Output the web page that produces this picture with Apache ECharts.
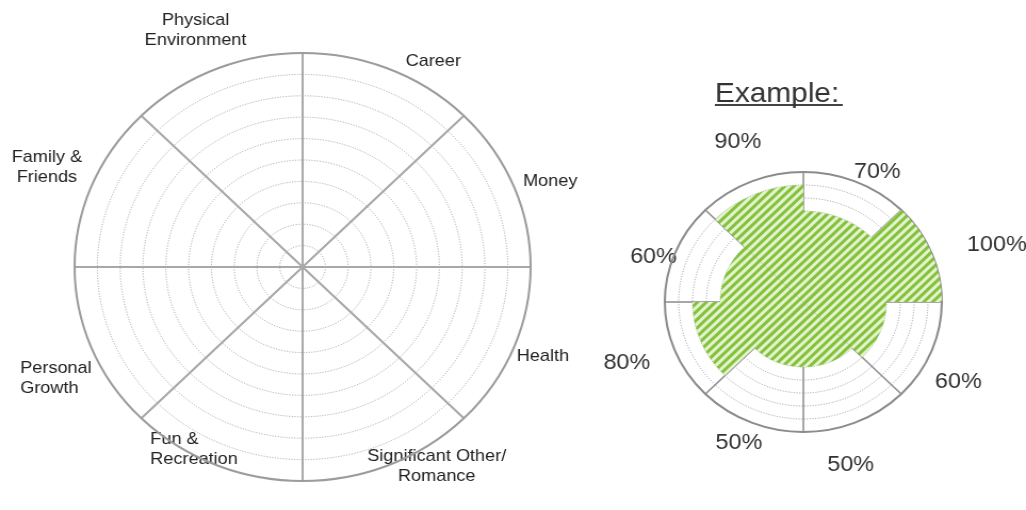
<!DOCTYPE html>
<html>
<head>
<meta charset="utf-8">
<script src="https://cdn.jsdelivr.net/npm/echarts@6/dist/echarts.min.js"></script>
<style>
  html, body { margin: 0; padding: 0; background: #fff; overflow: hidden; }
  /* the source picture is a little wider than tall, so the wheels are stretched */
  #chart { width: 963px; height: 510px; transform: scaleX(1.0654); transform-origin: 0 0; }
</style>
</head>
<body>
<div id="chart"></div>
<script>
// areas of the wheel, clockwise from 12 o'clock
const areas = [
    'Career',
    'Money',
    'Health',
    'Significant Other/\nRomance',
    'Fun &\nRecreation',
    'Personal\nGrowth',
    'Family &\nFriends',
    'Physical\nEnvironment'
]
// example wheel, percent per area (same order)
const exampleScores = [70, 100, 60, 50, 50, 80, 60, 90]
// left wheel scale: 0..10, one ring per point
const wheelMax = 10
const examplePctMax = 100

const FONT = 'Liberation Sans'

// how each multi-line label is aligned inside its own block
const lineAlign = ['l', 'l', 'l', 'c', 'l', 'l', 'c', 'c']
// little nudges so labels sit where the original puts them [top, right, bottom, left]
const wheelLabelPad = [
    [0, 0, -11, 11],
    [0, 0, -10, 0],
    [-6, 0, 0, -6],
    [-28, 0, 0, -25],
    [-45, -25, 0, 0],
    [6, -9, 0, 0],
    [0, 0, -6, 0],
    [0, -33, 10, 0]
]
const exampleLabelPad = [
    [0, 0, -20, -10],
    [0, 0, -11, 15],
    [12, 0, 0, -15],
    [13, 0, 0, -35],
    [-9, -19, 0, 0],
    [-7, 5, 0, 0],
    [0, -20, -23, 0],
    [0, -18, 10, 0]
]

const chart = echarts.init(document.getElementById('chart'), null, { renderer: 'canvas' })

function wheelLabel(value, index) {
    const tag = lineAlign[index]
    return value.split('\n').map(line => '{' + tag + '|' + line + '}').join('\n')
}

const option = {
    animation: false,
    backgroundColor: '#fff',
    title: {
        text: 'Example:',
        left: 671,
        top: 80,
        padding: 0,
        textStyle: { fontFamily: FONT, fontSize: 28, fontWeight: 'normal', color: '#333' }
    },
    // underline of the title
    graphic: [{
        type: 'rect',
        left: 671,
        top: 104,
        shape: { width: 120, height: 2 },
        style: { fill: '#444' }
    }],
    polar: [
        { center: [284, 267], radius: 214 },
        { center: [754, 302], radius: 130 }
    ],
    angleAxis: [
        {
            polarIndex: 0,
            type: 'category',
            data: areas.map((a, i) => ({ value: a, textStyle: { padding: wheelLabelPad[i] } })),
            startAngle: 90,
            clockwise: true,
            axisLine: { show: true, lineStyle: { color: '#9c9c9c', width: 2 } },
            axisTick: { show: false },
            splitLine: { show: true, lineStyle: { color: '#a8a8a8', width: 2 } },
            axisLabel: {
                margin: 10,
                formatter: wheelLabel,
                fontFamily: FONT,
                fontSize: 17,
                lineHeight: 20,
                color: '#222',
                rich: {
                    l: { align: 'left', fontFamily: FONT, fontSize: 17, lineHeight: 20, color: '#222' },
                    c: { align: 'center', fontFamily: FONT, fontSize: 17, lineHeight: 20, color: '#222' }
                }
            }
        },
        {
            polarIndex: 1,
            type: 'category',
            data: areas.map((a, i) => ({ value: a, textStyle: { padding: exampleLabelPad[i] } })),
            startAngle: 90,
            clockwise: true,
            axisLine: { show: true, lineStyle: { color: '#8c8c8c', width: 2 } },
            axisTick: { show: false },
            splitLine: { show: true, lineStyle: { color: '#8c8c8c', width: 1.5 } },
            axisLabel: {
                margin: 20,
                formatter: (v, i) => exampleScores[i] + '%',
                fontFamily: FONT,
                fontSize: 22,
                lineHeight: 22,
                color: '#333'
            }
        }
    ],
    radiusAxis: [
        {
            polarIndex: 0,
            type: 'value',
            min: 0,
            max: wheelMax,
            interval: 1,
            axisLine: { show: false },
            axisTick: { show: false },
            axisLabel: { show: false },
            splitLine: { show: true, lineStyle: { color: '#a0a0a0', width: 1, type: [1, 1.6] } }
        },
        {
            polarIndex: 1,
            type: 'value',
            min: 0,
            max: examplePctMax,
            interval: 10,
            axisLine: { show: false },
            axisTick: { show: false },
            axisLabel: { show: false },
            splitLine: { show: true, lineStyle: { color: '#959aa6', width: 1, type: [1, 1.6] } }
        }
    ],
    series: [
        {
            name: 'Example',
            type: 'bar',
            coordinateSystem: 'polar',
            polarIndex: 1,
            data: exampleScores,
            barCategoryGap: '0%',
            silent: true,
            itemStyle: {
                color: '#84c23c',
                decal: {
                    symbol: 'rect',
                    symbolSize: 1,
                    color: 'rgba(245,252,232,0.85)',
                    dashArrayX: [1, 0],
                    dashArrayY: [2.5, 3],
                    rotation: -Math.PI / 4
                }
            }
        }
    ]
}

chart.setOption(option)
</script>
</body>
</html>
